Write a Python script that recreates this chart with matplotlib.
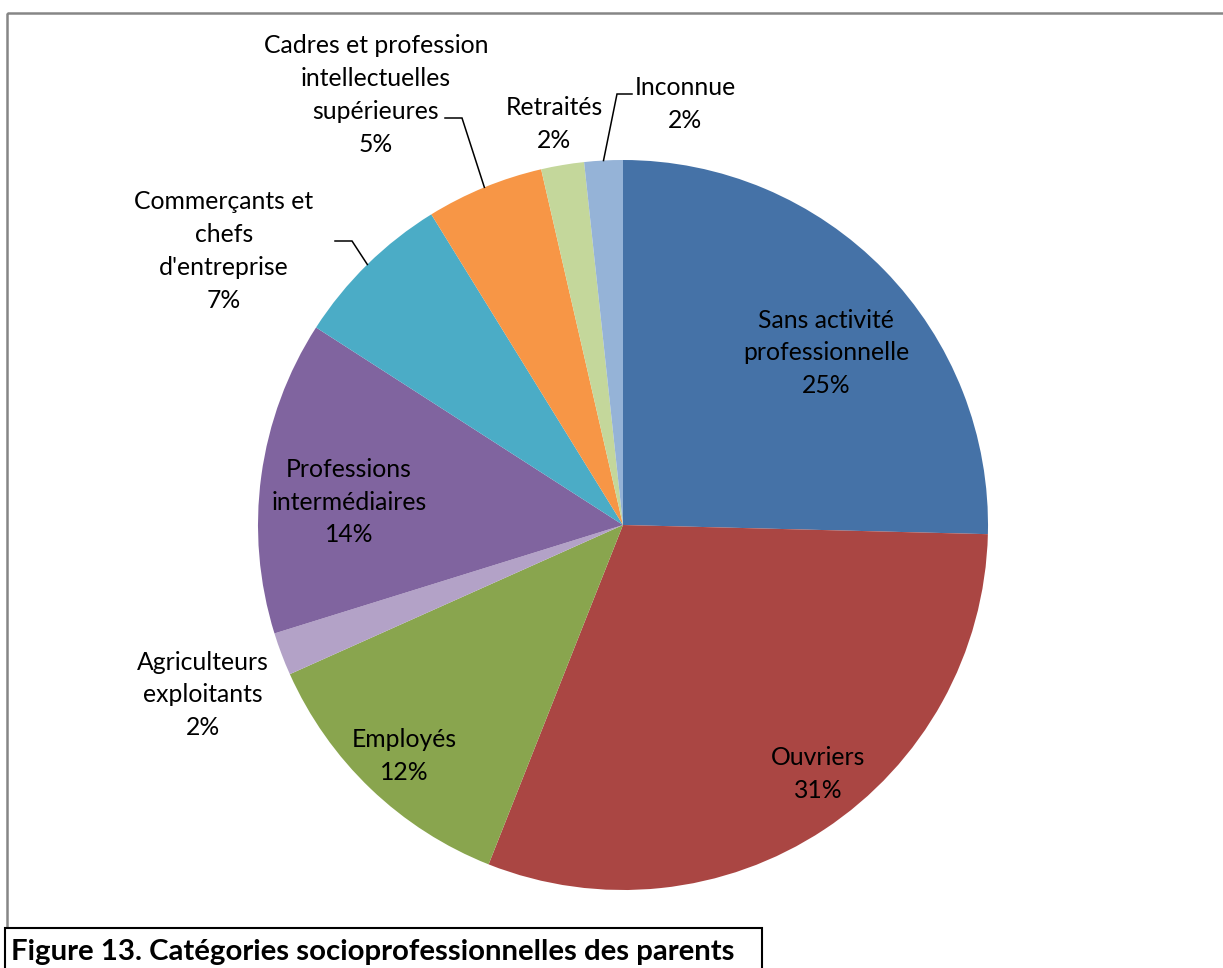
import matplotlib
matplotlib.use("Agg")
import matplotlib.pyplot as plt
from matplotlib.patches import Rectangle
import numpy as np

# data (parts, labels show rounded %)
categories = ["Sans activité\nprofessionnelle", "Ouvriers", "Employés",
              "Agriculteurs\nexploitants", "Professions\nintermédiaires",
              "Commerçants et\nchefs\nd'entreprise",
              "Cadres et profession\nintellectuelles\nsupérieures",
              "Retraités", "Inconnue"]
shares = [25.4, 30.6, 12.3, 1.9, 13.9, 7.1, 5.2, 1.9, 1.7]
colors = ["#4572A7", "#AA4643", "#89A54E", "#B3A2C7", "#80649F",
          "#4BACC6", "#F79646", "#C4D79B", "#95B3D7"]

W, H = 1223, 968
plt.rcParams['font.family'] = ['Lato', 'DejaVu Sans']

fig = plt.figure(figsize=(W / 100, H / 100), dpi=100)
ax = fig.add_axes([0, 0, 1, 1])

# pixel-like coordinates, y going down
cx, cy, r = 623, 525, 365
wedges, _ = ax.pie(shares, colors=colors, startangle=-90, counterclock=True,
                   center=(cx, cy), radius=r,
                   wedgeprops=dict(linewidth=0))
ax.set_xlim(0, W)
ax.set_ylim(H, 0)
ax.set_aspect('equal')
ax.axis('off')

pct = [f"{round(s)}%" for s in shares]

# label placement: (x, y, leader elbow or None)
label_pos = [
    (826, 353, None),
    (818, 774, None),
    (404, 756, None),
    (203, 695, None),
    (349, 502, None),
    (224, 251, (352, 241, 335)),
    (376, 95, (462, 118, 445)),
    (554, 124, None),
    (685, 104, (617, 94, 632)),
]

for w, name, p, (lx, ly, lead) in zip(wedges, categories, pct, label_pos):
    ax.text(lx, ly, name + "\n" + p, ha='center', va='center',
            fontsize=17.8, linespacing=1.52, color='black')
    if lead is not None:
        mid = np.deg2rad((w.theta1 + w.theta2) / 2)
        px, py = cx + r * np.cos(mid), cy + r * np.sin(mid)
        ex, ey, hx = lead
        ax.plot([px, ex, hx], [py, ey, ey], color='black', lw=1.1,
                solid_joinstyle='miter')

# outer chart frame
ax.add_patch(Rectangle((7, 13), W + 50, H, fill=False, edgecolor='#868686',
                       lw=1.8, clip_on=False))
# caption box
ax.add_patch(Rectangle((5, 928), 757, 60, facecolor='white',
                       edgecolor='black', lw=1.5, clip_on=False))
ax.text(11, 952, "Figure 13. Catégories socioprofessionnelles des parents",
        fontsize=21.2, fontweight='bold', ha='left', va='center')

fig.savefig("out.png", dpi=100)
